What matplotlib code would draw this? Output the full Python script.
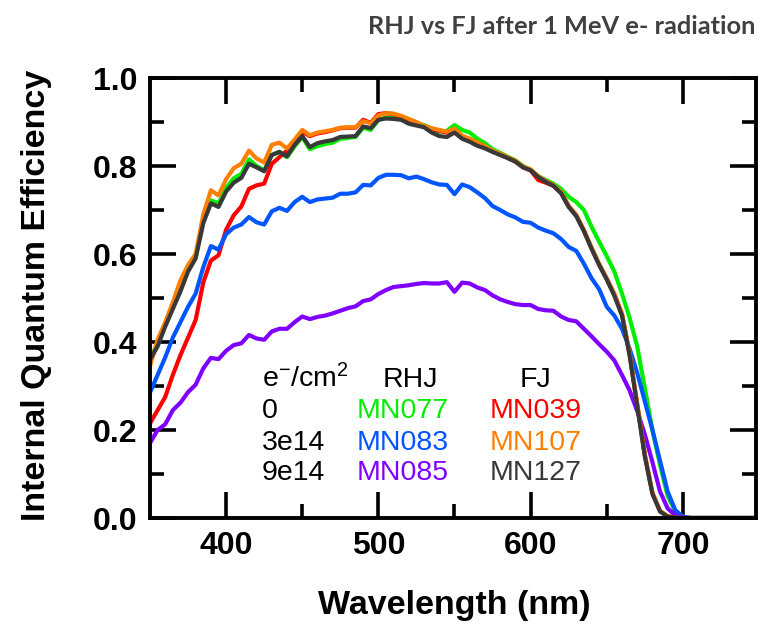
import numpy as np
import matplotlib
matplotlib.use("Agg")
import matplotlib.pyplot as plt

# wavelength grid (nm)
wavelength = [350, 355, 360, 365, 370, 375, 380, 385, 390, 395,
              400, 405, 410, 415, 420, 425, 430, 435, 440, 445,
              450, 455, 460, 465, 470, 475, 480, 485, 490, 495,
              500, 505, 510, 515, 520, 525, 530, 535, 540, 545,
              550, 555, 560, 565, 570, 575, 580, 585, 590, 595,
              600, 605, 610, 615, 620, 625, 630, 635, 640, 645,
              650, 655, 660, 665, 670, 675, 680, 685, 690, 695,
              700, 705, 750]

# RHJ
mn077 = [0.365, 0.395, 0.44, 0.48, 0.52, 0.565, 0.595, 0.675, 0.722, 0.715,
         0.75, 0.772, 0.782, 0.815, 0.80, 0.79, 0.825, 0.832, 0.82, 0.845,
         0.866, 0.838, 0.845, 0.85, 0.853, 0.862, 0.864, 0.866, 0.887, 0.882,
         0.905, 0.91, 0.91, 0.908, 0.90, 0.897, 0.893, 0.885, 0.878, 0.88,
         0.893, 0.882, 0.876, 0.862, 0.852, 0.838, 0.83, 0.821, 0.813, 0.80,
         0.792, 0.777, 0.768, 0.76, 0.748, 0.73, 0.718, 0.70, 0.662, 0.628,
         0.595, 0.56, 0.51, 0.455, 0.39, 0.295, 0.2, 0.12, 0.05, 0.015,
         0.003, 0.0, 0.0]
mn083 = [0.285, 0.325, 0.365, 0.41, 0.445, 0.48, 0.51, 0.57, 0.618, 0.61,
         0.645, 0.66, 0.667, 0.684, 0.672, 0.667, 0.697, 0.705, 0.698, 0.718,
         0.73, 0.718, 0.724, 0.726, 0.728, 0.737, 0.737, 0.74, 0.757, 0.756,
         0.773, 0.78, 0.78, 0.779, 0.772, 0.776, 0.77, 0.763, 0.758, 0.757,
         0.736, 0.758, 0.752, 0.74, 0.727, 0.709, 0.70, 0.69, 0.683, 0.673,
         0.671, 0.66, 0.653, 0.647, 0.634, 0.616, 0.607, 0.578, 0.545, 0.52,
         0.48, 0.46, 0.43, 0.385, 0.33, 0.265, 0.2, 0.13, 0.06, 0.018,
         0.003, 0.0, 0.0]
mn085 = [0.17, 0.2, 0.213, 0.245, 0.262, 0.286, 0.303, 0.34, 0.364, 0.361,
         0.38, 0.393, 0.397, 0.416, 0.408, 0.405, 0.424, 0.43, 0.43, 0.445,
         0.458, 0.452, 0.457, 0.46, 0.465, 0.471, 0.477, 0.481, 0.493, 0.497,
         0.509, 0.518, 0.525, 0.527, 0.529, 0.532, 0.534, 0.533, 0.533, 0.536,
         0.514, 0.535, 0.533, 0.524, 0.518, 0.506, 0.497, 0.491, 0.486, 0.484,
         0.484, 0.475, 0.472, 0.471, 0.458, 0.45, 0.447, 0.43, 0.413, 0.395,
         0.378, 0.358, 0.325, 0.29, 0.243, 0.19, 0.127, 0.06, 0.022, 0.006,
         0.001, 0.0, 0.0]

# FJ
mn039 = [0.215, 0.245, 0.275, 0.325, 0.37, 0.41, 0.45, 0.535, 0.585, 0.597,
         0.655, 0.688, 0.708, 0.748, 0.756, 0.76, 0.805, 0.82, 0.835, 0.858,
         0.878, 0.868, 0.874, 0.877, 0.881, 0.886, 0.887, 0.887, 0.905, 0.898,
         0.918, 0.92, 0.918, 0.912, 0.905, 0.898, 0.889, 0.884, 0.88, 0.876,
         0.883, 0.867, 0.86, 0.852, 0.843, 0.833, 0.826, 0.818, 0.81, 0.797,
         0.79, 0.768, 0.762, 0.755, 0.739, 0.708, 0.687, 0.653, 0.613, 0.576,
         0.543, 0.508, 0.463, 0.372, 0.258, 0.143, 0.056, 0.015, 0.004, 0.001,
         0.0, 0.0, 0.0]
mn107 = [0.345, 0.405, 0.445, 0.49, 0.54, 0.575, 0.60, 0.69, 0.745, 0.733,
         0.77, 0.795, 0.805, 0.835, 0.817, 0.808, 0.848, 0.853, 0.84, 0.86,
         0.882, 0.87, 0.876, 0.879, 0.882, 0.887, 0.888, 0.888, 0.902, 0.897,
         0.915, 0.92, 0.919, 0.914, 0.907, 0.90, 0.891, 0.886, 0.882, 0.878,
         0.885, 0.869, 0.862, 0.854, 0.845, 0.835, 0.828, 0.82, 0.812, 0.799,
         0.792, 0.777, 0.766, 0.757, 0.741, 0.71, 0.689, 0.655, 0.615, 0.578,
         0.545, 0.51, 0.465, 0.375, 0.26, 0.145, 0.058, 0.016, 0.004, 0.001,
         0.0, 0.0, 0.0]
mn127 = [0.36, 0.39, 0.435, 0.475, 0.515, 0.56, 0.59, 0.67, 0.715, 0.707,
         0.742, 0.762, 0.773, 0.805, 0.797, 0.788, 0.825, 0.832, 0.822, 0.848,
         0.868, 0.843, 0.852, 0.856, 0.859, 0.866, 0.867, 0.868, 0.89, 0.886,
         0.905, 0.908, 0.907, 0.905, 0.896, 0.892, 0.888, 0.876, 0.868, 0.866,
         0.876, 0.862, 0.855, 0.846, 0.84, 0.832, 0.825, 0.818, 0.81, 0.797,
         0.79, 0.775, 0.764, 0.755, 0.738, 0.707, 0.686, 0.652, 0.612, 0.575,
         0.542, 0.505, 0.46, 0.37, 0.255, 0.14, 0.055, 0.015, 0.003, 0.001,
         0.0, 0.0, 0.0]

fluences = ["0", "3e14", "9e14"]
rhj_names = ["MN077", "MN083", "MN085"]
fj_names = ["MN039", "MN107", "MN127"]

GREEN, RED, BLUE = "#00ee00", "#ff0000", "#0055ff"
PURPLE, ORANGE, DARK = "#8000ff", "#ff8000", "#383838"
rhj_colors = [GREEN, BLUE, PURPLE]
fj_colors = [RED, ORANGE, DARK]

plt.rcParams["font.family"] = ["Liberation Sans", "DejaVu Sans"]
plt.rcParams["mathtext.fontset"] = "custom"
plt.rcParams["mathtext.rm"] = "Liberation Sans"
plt.rcParams["mathtext.default"] = "regular"

fig = plt.figure(figsize=(7.59, 6.25), dpi=100)
ax = fig.add_axes([0.1976, 0.1712, 0.7984, 0.7040])

lw = 3.0
series = [(mn077, GREEN), (mn039, RED), (mn083, BLUE), (mn085, PURPLE),
          (mn107, ORANGE), (mn127, DARK)]
for vals, col in series:
    ax.plot(wavelength, vals, color=col, lw=lw, solid_joinstyle="round")

ax.set_xlim(350, 748)
ax.set_ylim(0, 1.0)
ax.set_xticks([400, 500, 600, 700])
ax.set_xticks([450, 550, 650], minor=True)
ax.set_yticks([0.0, 0.2, 0.4, 0.6, 0.8, 1.0])
ax.set_yticks([0.1, 0.3, 0.5, 0.7, 0.9], minor=True)
ax.set_yticklabels(["0.0", "0.2", "0.4", "0.6", "0.8", "1.0"])

for s in ax.spines.values():
    s.set_linewidth(2.8)
ax.tick_params(which="both", direction="in", top=True, right=True, width=2.6)
ax.tick_params(which="major", length=18.5, labelsize=23, pad=9)
ax.tick_params(which="minor", length=10)
for lab in ax.get_xticklabels() + ax.get_yticklabels():
    lab.set_fontweight("bold")

ax.set_xlabel("Wavelength (nm)", fontsize=24.5, fontweight="bold")
ax.set_ylabel("Internal Quantum Efficiency", fontsize=24.5, fontweight="bold")
ax.xaxis.set_label_coords(0.503, -0.163)
ax.yaxis.set_label_coords(-0.162, 0.506)

# table-style legend
fs = 20.5
rows_y = [0.227, 0.155, 0.086]
ax.text(423.6, 0.298, "e$^{-}$/cm$^{2}$", fontsize=fs, va="baseline")
ax.text(503, 0.298, "RHJ", fontsize=fs, va="baseline")
ax.text(592.5, 0.298, "FJ", fontsize=fs, va="baseline")
for y, fl, rn, rc, fn, fc in zip(rows_y, fluences, rhj_names, rhj_colors, fj_names, fj_colors):
    ax.text(423.6, y, fl, fontsize=fs, va="baseline", color="black")
    ax.text(486, y, rn, fontsize=fs, va="baseline", color=rc)
    ax.text(573.4, y, fn, fontsize=fs, va="baseline", color=fc)

fig.text(0.9947, 0.945, "RHJ vs FJ after 1 MeV e- radiation", ha="right", va="baseline",
         fontsize=18.3, fontweight="bold", color="#404040", family=["Lato", "DejaVu Sans"])

fig.savefig("out.png", dpi=100)
